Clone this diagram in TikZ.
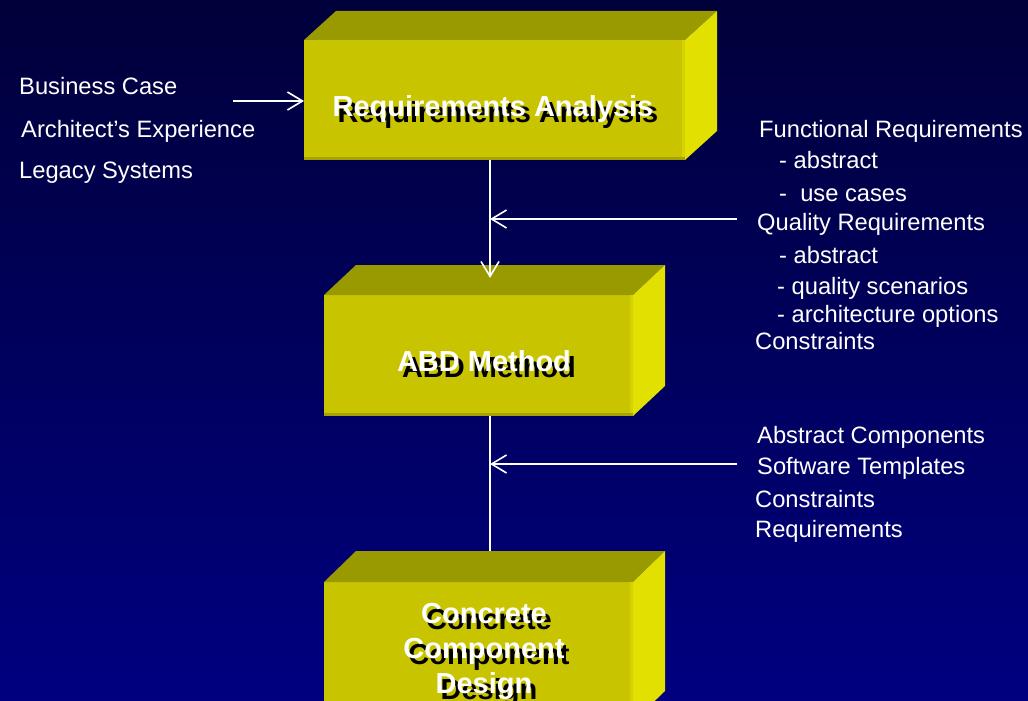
\documentclass[tikz,border=0pt]{standalone}
\usepackage{fontspec}
\setmainfont{Liberation Sans}
\usetikzlibrary{arrows.meta}

\definecolor{bgtop}{RGB}{0,0,58}
\definecolor{bgbot}{RGB}{0,0,128}
\definecolor{boxfront}{RGB}{200,196,0}
\definecolor{boxtop}{RGB}{153,153,0}
\definecolor{boxside}{RGB}{226,224,0}
\definecolor{boxedge}{RGB}{214,210,0}
\definecolor{boxbase}{RGB}{166,162,0}

% draws the top and right faces of a block whose front face is node #1
\newcommand\blockfaces[3]{%
  \fill[boxtop] (#1.north west) -- ++(#2,#3)
     -- ([shift={(#2,#3)}]#1.north east) -- (#1.north east) -- cycle;
  \fill[boxside] (#1.north east) -- ([shift={(#2,#3)}]#1.north east)
     -- ([shift={(#2,#3)}]#1.south east) -- (#1.south east) -- cycle;
  \fill[boxedge] ([xshift=-3pt]#1.north east) rectangle (#1.south east);
  \fill[boxbase] (#1.south west) rectangle ([yshift=3pt]#1.south east);
}

% white text over a black drop shadow
\newcommand\shadowed[1]{\leavevmode\rlap{\hspace{5pt}\raisebox{-6pt}{\color{black}#1}}#1}

\begin{document}
\begin{tikzpicture}[x=1pt,y=-1pt,
  front/.style={fill=boxfront, draw=none, inner sep=0pt, outer sep=0pt, rectangle},
  lbl/.style={text=white, font=\fontsize{23.7}{28}\selectfont, anchor=base west, inner sep=0pt},
  title/.style={text=white, font=\fontsize{29}{35}\selectfont\bfseries, align=center, inner sep=0pt},
  flow/.style={draw=white, line width=1.6pt, -{Straight Barb[length=15pt,width=18pt]}},
  plain/.style={draw=white, line width=1.6pt},
]
\useasboundingbox (0,0) rectangle (1028,701);
\shade[top color=bgtop, bottom color=bgbot] (0,0) rectangle (1028,701);

% blocks
\node[front, minimum width=381pt, minimum height=120pt] (ra) at (494.5,100) {};
\blockfaces{ra}{32}{-29}
\node[front, minimum width=309pt, minimum height=121pt] (abd) at (478.5,355.5) {};
\blockfaces{abd}{32}{-30}
\node[front, minimum width=309pt, minimum height=140pt] (ccd) at (478.5,652) {};
\blockfaces{ccd}{32}{-31}

% block titles
\node[title, anchor=base] (ratitle) at (493,116) {\shadowed{Requirements Analysis}};
\node[title, anchor=base] (abdtitle) at (484,371) {\shadowed{ABD Method}};
\node[title] (ccdtitle) at (484,654)
  {\shadowed{Concrete}\\\shadowed{Component}\\\shadowed{Design}};

% inputs on the left
\node[lbl] (bc) at (19,95) {Business Case};
\node[lbl] (ae) at (21,137) {Architect’s Experience};
\node[lbl] (ls) at (19,178) {Legacy Systems};

% requirements list
\node[lbl] (fr) at (759,137) {Functional Requirements};
\node[lbl] (fra) at (779,168) {- abstract};
\node[lbl] (fru) at (779,201) {-\ \ use cases};
\node[lbl] (qr) at (757,230) {Quality Requirements};
\node[lbl] (qra) at (779,263) {- abstract};
\node[lbl] (qrs) at (777,294) {- quality scenarios};
\node[lbl] (qro) at (777,322) {- architecture options};
\node[lbl] (cs1) at (755,349) {Constraints};

% design inputs
\node[lbl] (ac) at (757,443) {Abstract Components};
\node[lbl] (st) at (757,474) {Software Templates};
\node[lbl] (cs2) at (755,507) {Constraints};
\node[lbl] (rq) at (755,537) {Requirements};

% connectors
\coordinate (spine) at (490,0);
\coordinate (in1) at (233,101);
\coordinate (tip1) at (490,278);
\coordinate (src1) at (737,219);
\coordinate (tip2) at (490,551);
\coordinate (src2) at (737,464);

\draw[flow] (in1) -- (in1 -| ra.west);
\draw[flow] (ra.south -| spine) -- (tip1);
\draw[flow] (src1) -- (src1 -| spine);
\draw[plain] (abd.south -| spine) -- (tip2);
\draw[flow] (src2) -- (src2 -| spine);
\end{tikzpicture}
\end{document}
